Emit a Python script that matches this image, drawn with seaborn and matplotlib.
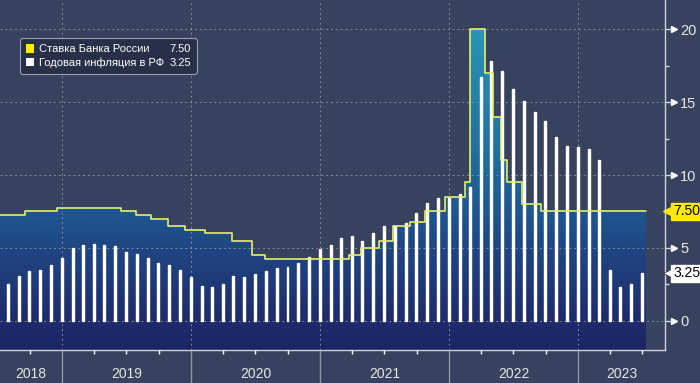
import numpy as np
import pandas as pd
import matplotlib
matplotlib.use("Agg")
import matplotlib.pyplot as plt
import matplotlib.dates as mdates
import matplotlib.transforms as mtransforms
from matplotlib.colors import LinearSegmentedColormap
from matplotlib.patches import Patch
import seaborn as sns

# key rate of the Bank of Russia (change dates, value after the change)
rate_dates = pd.to_datetime([
    "2018-07-01", "2018-09-17", "2018-12-17",
    "2019-06-17", "2019-07-29", "2019-09-09", "2019-10-28", "2019-12-16",
    "2020-02-10", "2020-04-27", "2020-06-22", "2020-07-27",
    "2021-03-22", "2021-04-26", "2021-06-15", "2021-07-26", "2021-09-13",
    "2021-10-25", "2021-12-20",
    "2022-02-14", "2022-02-28", "2022-04-11", "2022-05-04", "2022-05-27",
    "2022-06-14", "2022-07-25", "2022-09-19",
    "2023-07-12",
])
rate = [7.25, 7.50, 7.75,
        7.50, 7.25, 7.00, 6.50, 6.25,
        6.00, 5.50, 4.50, 4.25,
        4.50, 5.00, 5.50, 6.50, 6.75,
        7.50, 8.50,
        9.50, 20.00, 17.00, 14.00, 11.00,
        9.50, 8.00, 7.50,
        7.50]

# annual CPI inflation, monthly, Jul 2018 - Jun 2023
infl_dates = pd.date_range("2018-07-31", "2023-06-30", freq="ME")
inflation = [2.5, 3.1, 3.4, 3.5, 3.8, 4.3,
             5.0, 5.2, 5.3, 5.2, 5.1, 4.7, 4.6, 4.3, 4.0, 3.8, 3.5, 3.0,
             2.4, 2.3, 2.5, 3.1, 3.0, 3.2, 3.4, 3.6, 3.7, 4.0, 4.4, 4.9,
             5.2, 5.7, 5.8, 5.5, 6.0, 6.5, 6.5, 6.7, 7.4, 8.1, 8.4, 8.4,
             8.7, 9.2, 16.7, 17.8, 17.1, 15.9, 15.1, 14.3, 13.7, 12.6, 12.0, 11.9,
             11.8, 11.0, 3.5, 2.3, 2.5, 3.25]

years = [2018, 2019, 2020, 2021, 2022, 2023]
yticks = [0, 5, 10, 15, 20]
label_rate = "Ставка Банка России"
label_infl = "Годовая инфляция в РФ"

bg = "#36425e"
line_col = "#e4f06c"
tag_yellow = "#ffea00"
axis_col = "#d0d3da"

sns.set_theme(style="dark", rc={"axes.facecolor": bg, "figure.facecolor": bg})
plt.rcParams["font.family"] = ["Liberation Sans", "DejaVu Sans"]

xmin = pd.Timestamp("2018-07-09")
xmax = pd.Timestamp("2023-09-04")
ymin, ymax = -2, 22

fig = plt.figure(figsize=(7, 3.83), dpi=100)
ax = fig.add_axes([0, 33 / 383, 665 / 700, 350 / 383])

# gradient fill under the key rate
cmap = LinearSegmentedColormap.from_list("rate", [
    (0.0, "#1d2463"), (0.083, "#1f2b6b"), (0.29, "#1f4683"),
    (0.396, "#1f5790"), (0.58, "#22709e"), (0.917, "#2a95b4"), (1.0, "#2c9cba")])
grad = np.linspace(ymin, ymax, 256).reshape(-1, 1)
im = ax.imshow(grad, extent=[mdates.date2num(xmin), mdates.date2num(xmax), ymin, ymax],
               origin="lower", aspect="auto", cmap=cmap, vmin=ymin, vmax=ymax, zorder=1)
coll = ax.fill_between(rate_dates, rate, ymin, step="post", facecolor="none",
                       edgecolor="none")
im.set_clip_path(coll.get_paths()[0], transform=ax.transData)

ax.bar(infl_dates, inflation, width=5.5, color="white", zorder=3)
sns.lineplot(x=rate_dates, y=rate, drawstyle="steps-post", color=line_col,
             linewidth=1.2, ax=ax, zorder=4)

ax.set_xlim(xmin, xmax)
ax.set_ylim(ymin, ymax)

# axes styling
for s in ["left", "top"]:
    ax.spines[s].set_visible(False)
for s in ["right", "bottom"]:
    ax.spines[s].set_visible(True)
    ax.spines[s].set_color(axis_col)
    ax.spines[s].set_linewidth(1.0)

ax.yaxis.tick_right()
ax.set_yticks(yticks)
ax.set_yticks([2.5, 7.5, 12.5, 17.5], minor=True)
ax.tick_params(axis="y", which="major", length=5, width=1, color=axis_col,
               labelcolor="#e8e8e8", labelsize=10.5, pad=6, right=True, left=False)
ax.tick_params(axis="y", which="minor", length=3, width=1, color=axis_col,
               right=True, left=False)

ax.xaxis.set_major_locator(mdates.YearLocator())
ax.xaxis.set_minor_locator(mdates.MonthLocator(bymonth=[1, 4, 7, 10]))
ax.xaxis.set_major_formatter(plt.NullFormatter())
ax.tick_params(axis="x", which="major", length=24, width=1, color="#8f96a8",
               bottom=True)
ax.tick_params(axis="x", which="minor", length=3, width=1, color="white",
               bottom=True)

ax.set_axisbelow(False)
ax.grid(True, which="major", color="#8089a0", linestyle=(0, (2, 3)), linewidth=0.7)
ax.set_xlabel("")
ax.set_ylabel("")

# year labels centred in visible span
btrans = mtransforms.blended_transform_factory(ax.transData, ax.transAxes)
for yr in years:
    a = max(pd.Timestamp(f"{yr}-01-01"), xmin)
    b = min(pd.Timestamp(f"{yr + 1}-01-01"), xmax)
    mid = a + (b - a) / 2
    ax.text(mid, -0.07, str(yr), transform=btrans, ha="center", va="center",
            fontsize=10, color="#e6e6e6")

# little triangles on y ticks
rtrans = mtransforms.blended_transform_factory(ax.transAxes, ax.transData)
ax.plot([1 + 9 / 665] * len(yticks), yticks, ls="none", marker=">", ms=4,
        color="white", transform=rtrans, clip_on=False)

# last value tags
ax.plot([1 + 5 / 665], [rate[-1]], marker="<", ms=10, color=tag_yellow,
        transform=rtrans, clip_on=False, zorder=5)
ax.text(1 + 8 / 665, rate[-1], f"{rate[-1]:.2f}", transform=rtrans, ha="left",
        va="center", fontsize=10, color="black", zorder=6,
        bbox=dict(boxstyle="square,pad=0.12", fc=tag_yellow, ec=tag_yellow))
ax.plot([1 + 5 / 665], [inflation[-1]], marker="<", ms=10, color="white",
        markeredgecolor="#222222", markeredgewidth=0.5,
        transform=rtrans, clip_on=False, zorder=5)
ax.text(1 + 8 / 665, inflation[-1], f"{inflation[-1]:.2f}", transform=rtrans,
        ha="left", va="center", fontsize=10, color="black", zorder=6,
        bbox=dict(boxstyle="square,pad=0.12", fc="white", ec="white"))

# legend: names + last values in second column
handles = [Patch(facecolor="#ffee00", edgecolor="none"),
           Patch(facecolor="white", edgecolor="none"),
           Patch(facecolor="none", edgecolor="none"),
           Patch(facecolor="none", edgecolor="none")]
labels = [label_rate, label_infl, f"{rate[-1]:.2f}", f"{inflation[-1]:.2f}"]
leg = ax.legend(handles, labels, ncol=2, loc="upper left",
                bbox_to_anchor=(0.03, 0.89), borderaxespad=0, fontsize=8,
                handlelength=0.8, handleheight=0.8, handletextpad=0.45,
                columnspacing=-0.8, labelspacing=0.3, borderpad=0.5,
                frameon=True, fancybox=True, facecolor="#283049",
                edgecolor="#9aa0ae", framealpha=1)
for t in leg.get_texts():
    t.set_color("white")
leg.get_frame().set_linewidth(0.8)

fig.savefig("out.png", dpi=100, facecolor=bg)
